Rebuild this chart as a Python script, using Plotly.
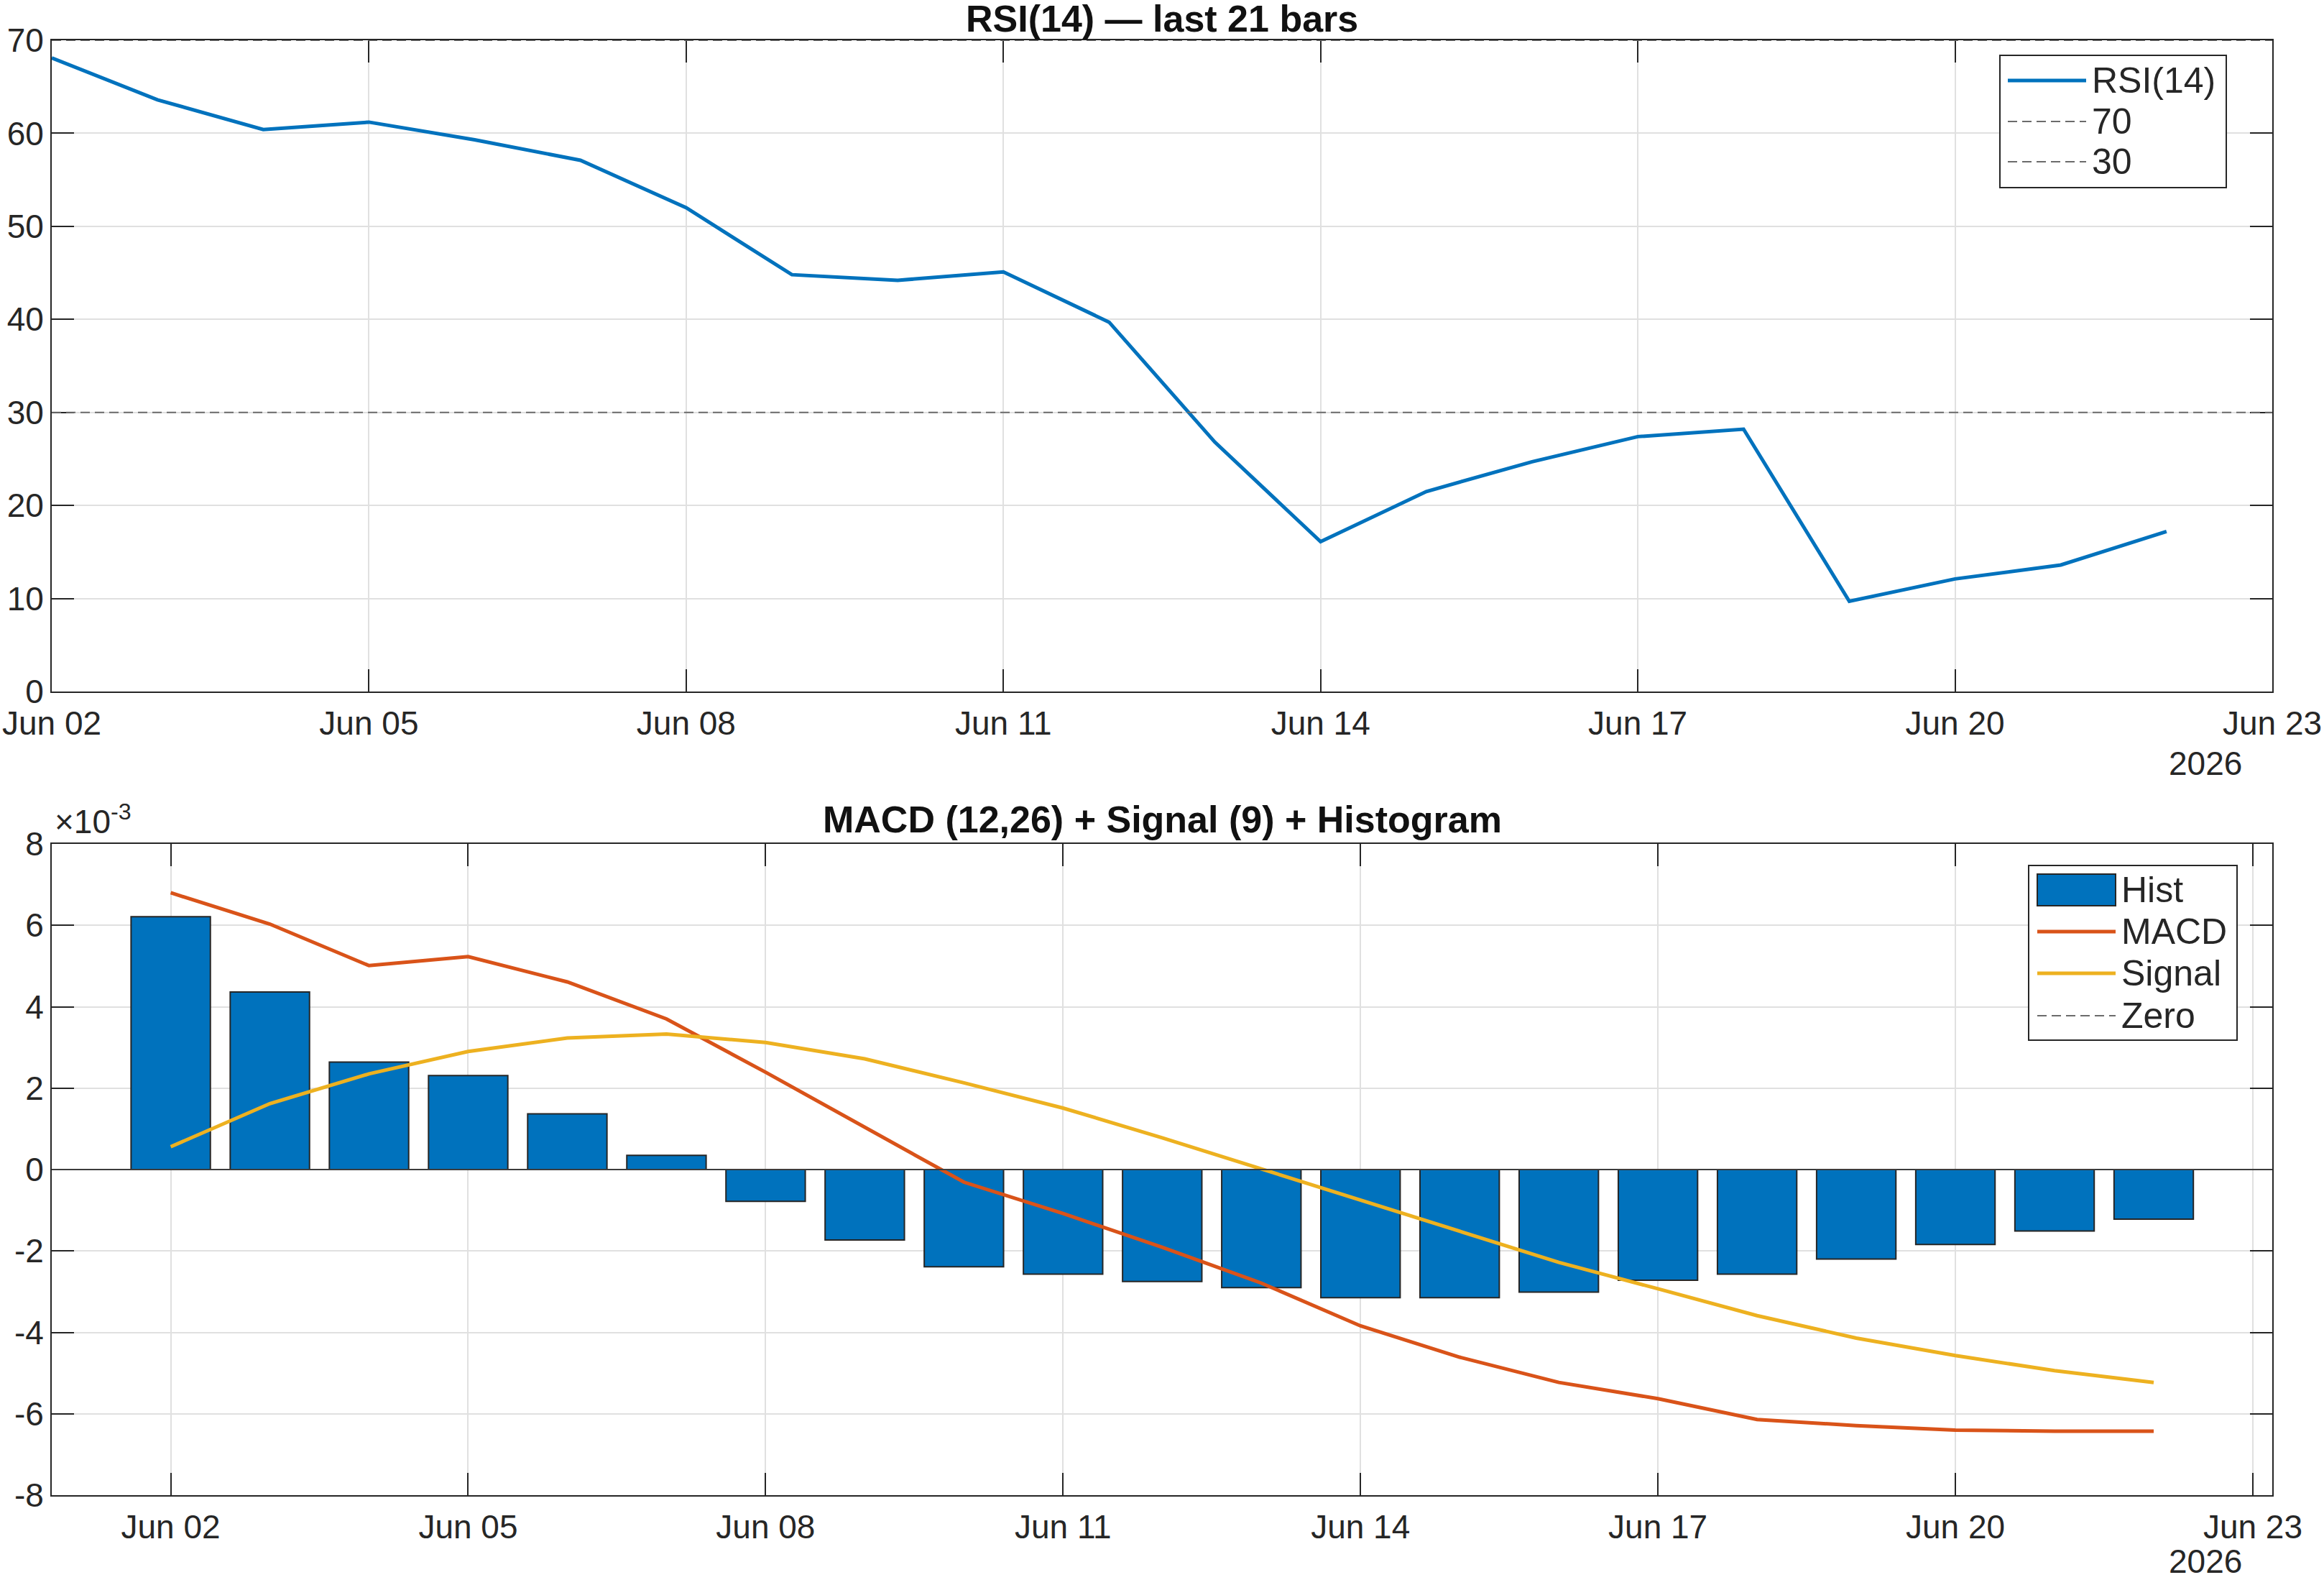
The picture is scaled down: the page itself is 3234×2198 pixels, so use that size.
import plotly.graph_objects as go
import pandas as pd

# ---------------- data ----------------
dates = pd.date_range("2026-06-02", periods=21, freq="D")
rsi = [68.1, 63.6, 60.4, 61.2, 59.3, 57.1, 52.0, 44.8, 44.2, 45.1, 39.7,
       26.8, 16.1, 21.5, 24.7, 27.4, 28.2, 9.7, 12.1, 13.6, 17.2]
rsi_levels = [70, 30]
# MACD values in units of 1e-3
hist = [6.21, 4.36, 2.64, 2.31, 1.37, 0.35, -0.78, -1.73, -2.39, -2.57, -2.75,
        -2.90, -3.15, -3.15, -3.01, -2.72, -2.57, -2.20, -1.84, -1.51, -1.22]
macd = [6.80, 6.03, 5.01, 5.23, 4.61, 3.70, 2.39, 1.04, -0.31, -1.08, -1.91,
        -2.79, -3.84, -4.61, -5.23, -5.63, -6.14, -6.29, -6.40, -6.43, -6.43]
signal = [0.56, 1.62, 2.35, 2.90, 3.23, 3.33, 3.12, 2.72, 2.13, 1.51, 0.78,
          0.02, -0.75, -1.51, -2.28, -2.93, -3.59, -4.14, -4.57, -4.94, -5.23]
scale = 1e-3
macd_ticks = [-8, -6, -4, -2, 0, 2, 4, 6, 8]
rsi_ticks = [0, 10, 20, 30, 40, 50, 60, 70]
rsi_legend = ["RSI(14)", "70", "30"]
macd_legend = ["Hist", "MACD", "Signal", "Zero"]

W, H = 3234, 2198
FONT = "Liberation Sans, Arial, Helvetica, sans-serif"
TXT = "#262626"
BLUE, ORANGE, YELLOW = "#0072BD", "#D95319", "#EDB120"
GRAY = "#6b6b6b"
DASH = "13px,7px"
LW = 5


def fx(p):
    return p / W


def fy(p):
    return 1 - p / H


fig = go.Figure()

# ---- top: RSI ----
fig.add_trace(go.Scatter(x=dates, y=rsi, mode="lines", name=rsi_legend[0],
                         line=dict(color=BLUE, width=LW), xaxis="x", yaxis="y",
                         showlegend=False))
for lv in rsi_levels:
    fig.add_shape(type="line", xref="x domain", yref="y", x0=0, x1=1, y0=lv, y1=lv,
                  line=dict(color=GRAY, width=2, dash=DASH), layer="above")

# ---- bottom: MACD ----
fig.add_trace(go.Bar(x=dates, y=[v * scale for v in hist], name=macd_legend[0],
                     marker=dict(color=BLUE, line=dict(color="#262626", width=2)),
                     width=0.8 * 86400000, xaxis="x2", yaxis="y2", showlegend=False))
fig.add_shape(type="line", xref="x2 domain", yref="y2", x0=0, x1=1, y0=0, y1=0,
              line=dict(color="#3c3c3c", width=2), layer="above")
fig.add_trace(go.Scatter(x=dates, y=[v * scale for v in macd], mode="lines",
                         name=macd_legend[1], line=dict(color=ORANGE, width=LW),
                         xaxis="x2", yaxis="y2", showlegend=False))
fig.add_trace(go.Scatter(x=dates, y=[v * scale for v in signal], mode="lines",
                         name=macd_legend[2], line=dict(color=YELLOW, width=LW),
                         xaxis="x2", yaxis="y2", showlegend=False))

axis_common = dict(showline=True, linecolor=TXT, linewidth=2, mirror="allticks",
                   ticks="inside", ticklen=31, tickwidth=2, tickcolor=TXT,
                   showgrid=True, gridcolor="#e0e0e0", gridwidth=2, zeroline=False,
                   automargin=False,
                   tickfont=dict(family=FONT, size=46, color=TXT))

fig.update_layout(
    width=W, height=H, autosize=False,
    margin=dict(l=0, r=0, t=0, b=0, autoexpand=False),
    paper_bgcolor="white", plot_bgcolor="white",
    font=dict(family=FONT, color=TXT),
    showlegend=False,
    xaxis=dict(axis_common, domain=[fx(72), fx(3162)], anchor="y", type="date",
               range=["2026-06-02", "2026-06-23"], tick0="2026-06-02",
               dtick=3 * 86400000, tickformat="%b %d", ticklabelstandoff=3),
    yaxis=dict(axis_common, domain=[fy(962), fy(56)], anchor="x",
               range=[0, 70], tickvals=rsi_ticks, ticklabelstandoff=0),
    xaxis2=dict(axis_common, domain=[fx(72), fx(3162)], anchor="y2", type="date",
                range=["2026-05-31 19:12", "2026-06-23 04:42"], tick0="2026-06-02",
                dtick=3 * 86400000, tickformat="%b %d", ticklabelstandoff=3),
    yaxis2=dict(axis_common, domain=[fy(2080), fy(1174)], anchor="x2",
                range=[-8 * scale, 8 * scale], tickvals=[t * scale for t in macd_ticks],
                ticktext=[str(t) for t in macd_ticks], ticklabelstandoff=0),
)

# ---- titles and extra labels ----
annots = [
    dict(text="<b>RSI(14) — last 21 bars</b>", x=fx(1617), y=fy(26),
         font=dict(size=52, color="#111111", family=FONT)),
    dict(text="<b>MACD (12,26) + Signal (9) + Histogram</b>", x=fx(1617), y=fy(1140),
         font=dict(size=52, color="#111111", family=FONT)),
    dict(text="2026", x=fx(3069), y=fy(1062), font=dict(size=46, color=TXT, family=FONT)),
    dict(text="2026", x=fx(3069), y=fy(2172), font=dict(size=46, color=TXT, family=FONT)),
]
for a in annots:
    fig.add_annotation(xref="paper", yref="paper", showarrow=False,
                       xanchor="center", yanchor="middle", **a)
fig.add_annotation(xref="paper", yref="paper", showarrow=False, xanchor="left",
                   yanchor="middle", x=fx(74), y=fy(1140),
                   text="×10<sup>-3</sup>", font=dict(size=46, color=TXT, family=FONT))


# ---- legends (drawn as boxes with samples) ----
def legend_box(x0, y0, x1, y1):
    fig.add_shape(type="rect", xref="paper", yref="paper",
                  x0=fx(x0), x1=fx(x1), y0=fy(y0), y1=fy(y1),
                  line=dict(color=TXT, width=2), fillcolor="white", layer="above")


def legend_label(text, x, y):
    fig.add_annotation(xref="paper", yref="paper", showarrow=False, xanchor="left",
                       yanchor="middle", x=fx(x), y=fy(y), text=text,
                       font=dict(size=50, color=TXT, family=FONT))


def legend_line(x0, x1, y, color, width, dash=None):
    fig.add_shape(type="line", xref="paper", yref="paper", x0=fx(x0), x1=fx(x1),
                  y0=fy(y), y1=fy(y), line=dict(color=color, width=width, dash=dash),
                  layer="above")


# top legend
legend_box(2783, 77, 3098, 261)
rows_top = [112, 169, 225]
styles_top = [(BLUE, LW, None), (GRAY, 2, DASH), (GRAY, 2, DASH)]
for name, ry, (c, w, d) in zip(rsi_legend, rows_top, styles_top):
    legend_line(2794, 2903, ry, c, w, d)
    legend_label(name, 2909, ry)

# bottom legend
legend_box(2823, 1204, 3113, 1447)
rows_bot = [1238, 1296, 1354, 1413]
fig.add_shape(type="rect", xref="paper", yref="paper", x0=fx(2835), x1=fx(2944),
              y0=fy(1216), y1=fy(1260), line=dict(color=TXT, width=2),
              fillcolor=BLUE, layer="above")
legend_label(macd_legend[0], 2950, rows_bot[0])
styles_bot = [(ORANGE, LW, None), (YELLOW, LW, None), (GRAY, 2, DASH)]
for name, ry, (c, w, d) in zip(macd_legend[1:], rows_bot[1:], styles_bot):
    legend_line(2835, 2944, ry, c, w, d)
    legend_label(name, 2950, ry)

fig.write_html("out.html")
